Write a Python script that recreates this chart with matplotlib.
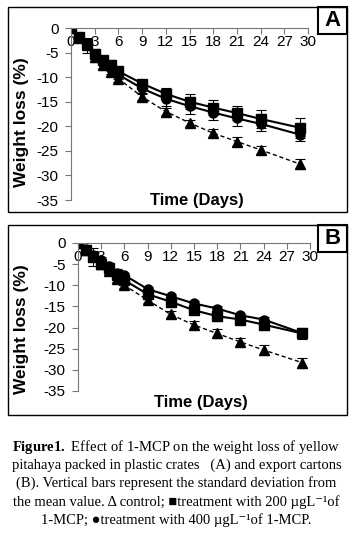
import numpy as np
import matplotlib
matplotlib.use("Agg")
import matplotlib.pyplot as plt
from matplotlib.patches import Rectangle

plt.rcParams['font.family'] = ['Liberation Sans', 'DejaVu Sans']
plt.rcParams['axes.unicode_minus'] = False
plt.rcParams['mathtext.fontset'] = 'custom'
plt.rcParams['mathtext.rm'] = 'Liberation Serif'
plt.rcParams['mathtext.bf'] = 'Liberation Serif:bold'

days = [0, 1, 2, 3, 4, 5, 6, 9, 12, 15, 18, 21, 24, 29]
x_ticks = [0, 3, 6, 9, 12, 15, 18, 21, 24, 27, 30]
y_ticks = [0, -5, -10, -15, -20, -25, -30, -35]

# panel A - plastic crates
a_control = [0, -2.0, -3.4, -6.0, -7.6, -9.0, -10.3, -14.0, -17.0, -19.3, -21.4, -23.1, -24.8, -27.7]
a_control_sd = [0, 0.3, 0.5, 1.0, 1.0, 0.8, 0.6, 0.6, 0.8, 0.6, 0.8, 0.9, 0.8, 1.0]
a_200 = [0, -1.9, -3.2, -5.3, -6.6, -7.6, -8.8, -11.3, -13.4, -15.0, -16.2, -17.3, -18.5, -20.3]
a_200_sd = [0, 0.3, 0.6, 1.0, 1.0, 1.0, 0.8, 0.8, 1.2, 1.5, 1.5, 1.5, 1.8, 2.0]
a_400 = [0, -2.0, -3.5, -5.8, -7.2, -8.4, -9.5, -12.3, -14.4, -15.9, -17.2, -18.4, -19.5, -21.7]
a_400_sd = [0, 0.3, 1.5, 1.2, 1.0, 1.0, 0.8, 1.0, 1.5, 1.5, 1.5, 1.5, 1.5, 1.3]

# panel B - export cartons
b_control = [0, -1.6, -3.0, -5.0, -6.6, -8.4, -10.0, -13.5, -16.9, -19.4, -21.4, -23.4, -25.3, -28.3]
b_control_sd = [0, 0.3, 0.5, 0.8, 0.8, 0.8, 0.6, 0.8, 0.9, 0.9, 1.0, 1.0, 1.1, 1.2]
b_200 = [0, -1.6, -3.3, -4.9, -6.0, -7.6, -8.8, -12.1, -13.9, -15.9, -17.3, -18.1, -19.3, -21.4]
b_200_sd = [0, 0.3, 2.2, 1.2, 0.8, 0.8, 0.8, 0.8, 1.0, 1.0, 1.2, 0.8, 1.2, 1.2]
b_400 = [0, -1.5, -2.8, -4.0, -5.5, -7.0, -7.6, -10.9, -12.6, -14.3, -15.5, -17.1, -18.1, -21.3]
b_400_sd = [0, 0.3, 0.8, 0.8, 0.8, 0.8, 0.6, 0.6, 0.6, 0.6, 0.5, 0.6, 0.6, 0.8]

caption_lines = [
    r"$\mathbf{Figure1.}$ Effect of 1-MCP on the weight loss of yellow",
    "pitahaya packed in plastic crates   (A) and export cartons",
    "(B). Vertical bars represent the standard deviation from",
    "the mean value. \u0394 control; \u25a0treatment with 200 \u00b5gL\u207b\u00b9of",
    "1-MCP; \u25cftreatment with 400 \u00b5gL\u207b\u00b9of 1-MCP.",
]

W, H = 356, 537
fig = plt.figure(figsize=(W / 100, H / 100), dpi=100)


def px_rect(x0, y0, x1, y1):
    # pixel box (top-left origin) -> figure fraction rect
    return [x0 / W, 1 - y1 / H, (x1 - x0) / W, (y1 - y0) / H]


def draw_panel(rect, control, control_sd, t200, t200_sd, t400, t400_sd, letter,
               frame, letter_box, xlabel_y, ylabel_pos):
    ax = fig.add_axes(rect)
    eb = dict(ecolor='black', elinewidth=0.8, capsize=3.5, capthick=0.8)
    ax.errorbar(days, t400, yerr=t400_sd, color='black', lw=1.5, marker='o',
                ms=6.5, **eb)
    ax.errorbar(days, t200, yerr=t200_sd, color='black', lw=1.5, marker='s',
                ms=6.5, **eb)
    ax.errorbar(days, control, yerr=control_sd, color='black', lw=1.0,
                ls=(0, (3, 2)), marker='^', ms=6.5, **eb)

    ax.set_xlim(0, 30)
    ax.set_ylim(-35, 0)
    ax.set_xticks(x_ticks)
    ax.set_yticks(y_ticks)
    ax.spines['top'].set_visible(False)
    ax.spines['right'].set_visible(False)
    ax.spines['bottom'].set_position(('data', 0))
    for s in ('left', 'bottom'):
        ax.spines[s].set_color('#777777')
        ax.spines[s].set_linewidth(0.8)
    ax.tick_params(axis='both', labelsize=11, length=4, width=0.8,
                   color='#777777')
    ax.tick_params(axis='x', pad=1)
    ax.tick_params(axis='y', pad=5)
    ax.patch.set_visible(False)

    ax.text(0.53, xlabel_y, "Time (Days)", transform=ax.transAxes,
            ha='center', va='center', fontsize=12, fontweight='bold')
    fig.text(ylabel_pos[0] / W, 1 - ylabel_pos[1] / H, "Weight loss (%)",
             rotation=90, ha='center', va='center', fontsize=12.5,
             fontweight='bold')

    x0, y0, x1, y1 = frame
    fig.add_artist(Rectangle((x0 / W, 1 - y1 / H), (x1 - x0) / W, (y1 - y0) / H,
                             transform=fig.transFigure, fill=False,
                             ec='black', lw=1.0))
    bx0, by0, bx1, by1 = letter_box
    fig.add_artist(Rectangle((bx0 / W, 1 - by1 / H), (bx1 - bx0) / W,
                             (by1 - by0) / H, transform=fig.transFigure,
                             fill=False, ec='black', lw=1.5))
    fig.text((bx0 + bx1) / 2 / W, 1 - (by0 + by1) / 2 / H, letter,
             ha='center', va='center', fontsize=16, fontweight='bold')
    return ax


draw_panel(px_rect(71, 28, 308, 200), a_control, a_control_sd, a_200, a_200_sd,
           a_400, a_400_sd, "A", (8, 7, 347, 212), (318, 7, 347, 34),
           -0.005, (22, 122))
draw_panel(px_rect(78, 243, 310, 391), b_control, b_control_sd, b_200, b_200_sd,
           b_400, b_400_sd, "B", (8, 225, 347, 415), (318, 225, 347, 252),
           -0.08, (22, 329))

line_y = [447, 465, 483, 502, 520]
for txt, yy in zip(caption_lines, line_y):
    fig.text(0.5 * 353 / W, 1 - yy / H, txt, ha='center', va='center',
             fontsize=10.5, family=['Liberation Serif', 'DejaVu Sans'])

fig.savefig("out.png", dpi=100)
